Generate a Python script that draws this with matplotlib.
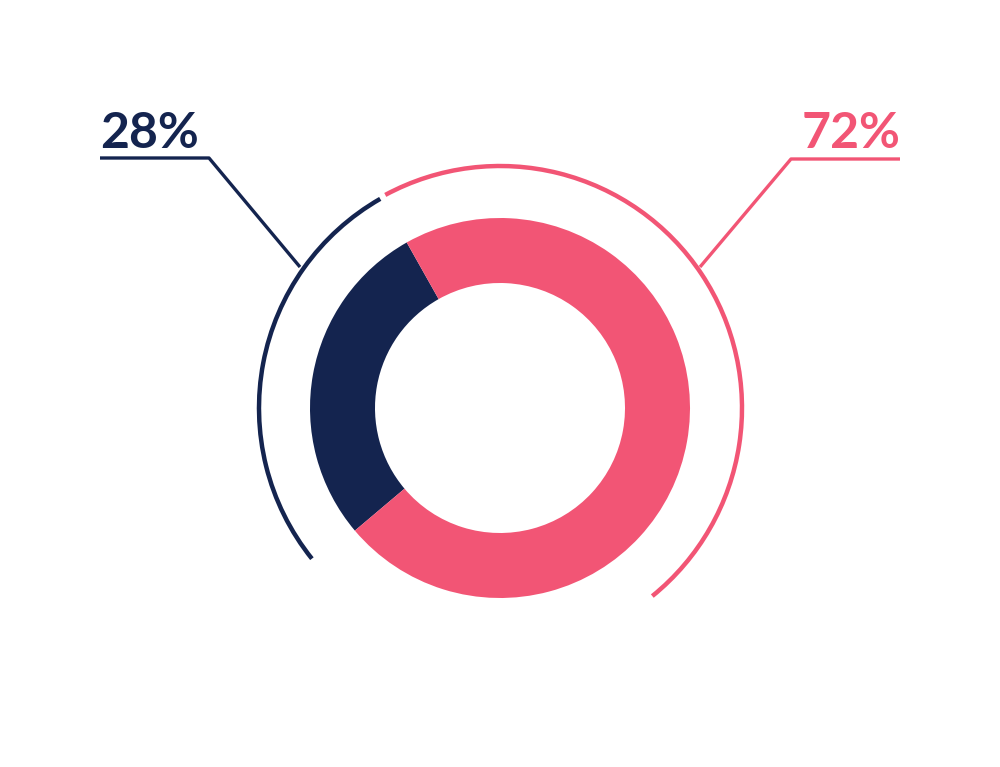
import matplotlib
matplotlib.use("Agg")
import matplotlib.pyplot as plt
from matplotlib.patches import Arc

# data
labels = ["28%", "72%"]
shares = [28, 72]
colors = ["#14244F", "#F25575"]

W, H = 1000, 767
fig = plt.figure(figsize=(W / 100, H / 100), dpi=100)
ax = fig.add_axes([0, 0, 1, 1])
ax.set_xlim(0, W)
ax.set_ylim(0, H)
ax.set_aspect("equal")
ax.axis("off")

cx, cy = 500, H - 408
start = 119.4
ax.pie(shares, colors=colors, startangle=start, counterclock=True,
       center=(cx, cy), radius=190, wedgeprops=dict(width=65, linewidth=0),
       frame=True)
ax.set_xlim(0, W)
ax.set_ylim(0, H)
ax.axis("off")

# outer decorative arcs
r_arc = 241
navy_end = start + shares[0] / 100 * 360
ax.add_patch(Arc((cx, cy), 2 * r_arc, 2 * r_arc, theta1=start + 0.4,
                 theta2=navy_end - 1.5, color=colors[0], lw=3.2))
ax.add_patch(Arc((cx, cy), 2 * r_arc + 2, 2 * r_arc + 2, theta1=-51,
                 theta2=start - 1.1, color=colors[1], lw=3.2))

# leader lines and labels
ax.plot([300, 209, 100], [H - 267, H - 158, H - 158], color=colors[0],
        lw=2.4, solid_capstyle="butt")
ax.plot([700, 791, 900], [H - 267, H - 159, H - 159], color=colors[1],
        lw=2.4, solid_capstyle="butt")
ax.text(100, H - 148, labels[0], color=colors[0], fontsize=36,
        fontfamily="Lato", fontweight="bold", ha="left", va="baseline")
ax.text(900, H - 148, labels[1], color=colors[1], fontsize=36,
        fontfamily="Lato", fontweight="bold", ha="right", va="baseline")

fig.savefig("out.png", dpi=100, facecolor="white")
